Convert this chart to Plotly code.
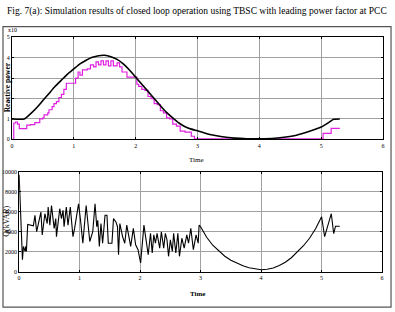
import plotly.graph_objects as go

W, H = 395, 312

# ---------------- data ----------------
# Top plot (Reactive power, x10^5)
black_t = [0, 0.2, 0.3, 0.4, 0.5, 0.6, 0.7, 0.8, 0.9, 1.0, 1.1, 1.2, 1.3, 1.4, 1.5, 1.6, 1.7, 1.8,
           1.9, 2.0, 2.1, 2.2, 2.3, 2.4, 2.5, 2.6, 2.7, 2.8, 2.9, 3.0, 3.2, 3.4, 3.6, 3.8, 4.0, 4.2,
           4.4, 4.6, 4.8, 5.0, 5.1, 5.2, 5.3]
black_v = [1.0, 1.0, 1.25, 1.55, 1.9, 2.25, 2.6, 2.9, 3.2, 3.45, 3.7, 3.88, 4.02, 4.1, 4.12, 4.05,
           3.92, 3.7, 3.4, 3.05, 2.7, 2.35, 2.0, 1.65, 1.32, 1.05, 0.8, 0.62, 0.5, 0.42, 0.24, 0.13,
           0.06, 0.03, 0.03, 0.04, 0.1, 0.2, 0.38, 0.6, 0.78, 0.98, 1.0]

pink_t = [0, 0.03, 0.06, 0.09, 0.12, 0.24, 0.3, 0.37, 0.45, 0.5, 0.52, 0.58, 0.6, 0.65, 0.68, 0.72,
          0.76, 0.8, 0.84, 0.88, 1.03, 1.07, 1.1, 1.14, 1.22, 1.27, 1.32, 1.36, 1.4, 1.44, 1.48,
          1.52, 1.56, 1.6, 1.64, 1.7, 1.74, 1.78, 1.86, 2.02, 2.05, 2.1, 2.15, 2.2, 2.25, 2.3,
          2.35, 2.4, 2.45, 2.5, 2.55, 2.6, 2.66, 2.72, 2.8, 2.9, 2.95, 5.03, 5.16, 5.3]
pink_v = [0, 0.8, 0.85, 0.75, 0.52, 0.7, 0.72, 0.82, 1.0, 1.05, 1.2, 1.3, 1.45, 1.6, 1.75, 1.85,
          2.05, 2.2, 2.45, 2.75, 3.0, 3.3, 3.15, 3.4, 3.45, 3.65, 3.55, 3.8, 3.65, 3.85, 3.65,
          3.85, 3.6, 3.85, 3.6, 3.75, 3.55, 3.3, 3.05, 2.7, 2.6, 2.45, 2.4, 2.1, 2.0, 1.75,
          1.7, 1.4, 1.3, 1.05, 1.0, 0.75, 0.65, 0.4, 0.35, 0.15, 0.02, 0.29, 0.54, 0.54]

# Bottom plot (Q, kVAR)
q_t = [0.0, 0.055, 0.071, 0.099, 0.11, 0.12, 0.142, 0.235, 0.262, 0.29, 0.36, 0.382, 0.426,
       0.464, 0.48, 0.508, 0.535, 0.579, 0.606, 0.617, 0.672, 0.7, 0.726, 0.743, 0.78, 0.808,
       0.846, 0.89, 0.917, 0.944, 0.982, 1.015, 1.053, 1.108, 1.146, 1.168, 1.217, 1.255,
       1.283, 1.3, 1.326, 1.353, 1.38, 1.42, 1.452, 1.474, 1.534, 1.56, 1.6, 1.626, 1.643,
       1.665, 1.71, 1.746, 1.779, 1.817, 1.844, 1.888, 1.926, 1.965, 2.008, 2.063, 2.1, 2.134,
       2.172, 2.2, 2.226, 2.253, 2.28, 2.324, 2.351, 2.39, 2.417, 2.444, 2.47, 2.5, 2.532,
       2.554, 2.59, 2.624, 2.65, 2.69, 2.728, 2.772, 2.8, 2.838, 2.88, 2.925, 2.96, 2.975,
       3.0, 3.1, 3.2, 3.3, 3.4, 3.5, 3.6, 3.7, 3.8, 3.9, 4.0, 4.1, 4.2, 4.3, 4.4, 4.5, 4.6,
       4.7, 4.8, 4.9, 5.0, 5.05, 5.16, 5.2, 5.23, 5.3]
q_v = [9700, 1200, 2530, 2030, 2530, 2030, 4720, 4590, 5640, 4000, 5970, 3670, 5800,
       4820, 6460, 4650, 6620, 4330, 5310, 3510, 6300, 5310, 6130, 4500, 6460, 4650,
       6460, 3510, 4330, 5480, 6790, 5150, 2850, 6620, 4650, 3020, 4000, 6790,
       4500, 5150, 2530, 4820, 2850, 5640, 5640, 2850, 2850, 5310, 4980, 4500, 1700,
       4820, 3510, 2850, 4660, 3350, 2530, 4330, 2690, 2200, 890, 4660, 2850, 1700,
       3840, 1870, 3680, 2850, 3840, 2360, 4000, 2360, 3840, 3180, 1540, 3180, 2030,
       3840, 1870, 3840, 1540, 3350, 2360, 3680, 2850, 4330, 2200, 3680, 2850, 4660,
       4500, 3450, 2650, 2050, 1550, 1150, 850, 600, 400, 270, 200, 250, 380, 620, 950, 1400, 1950,
       2600, 3350, 4300, 5500, 3500, 5800, 3800, 4550, 4550]

x_ticks = [0, 1, 2, 3, 4, 5, 6]
x_ticktext = ["0", "1", "2", "3", "4", "5", "6"]
top_y_ticks = [0, 1, 2, 3, 4, 5]
top_y_ticktext = ["0", "1", "2", "3", "4", "5"]
bot_y_ticks = [0, 2000, 4000, 6000, 8000, 10000]
bot_y_ticktext = ["0", "2000", "4000", "6000", "8000", "10000"]

title_text = "Fig. 7(a): Simulation results of closed loop operation using TBSC with leading power factor at PCC"

# ---------------- figure ----------------
def px(x):
    return x / W

def py(y):
    return 1 - y / H

fig = go.Figure()
fig.add_trace(go.Scatter(x=pink_t, y=pink_v, mode="lines", line=dict(color="#E020E0", width=1.2, shape="hv"),
                         xaxis="x", yaxis="y", showlegend=False))
fig.add_trace(go.Scatter(x=black_t, y=black_v, mode="lines", line=dict(color="black", width=1.6, shape="spline", smoothing=0.6),
                         xaxis="x", yaxis="y", showlegend=False))
fig.add_trace(go.Scatter(x=q_t, y=q_v, mode="lines", line=dict(color="black", width=1.1),
                         xaxis="x2", yaxis="y2", showlegend=False))

tickfont = dict(family="Liberation Serif", size=6, color="black")
axcommon = dict(showline=True, linecolor="black", linewidth=1, mirror="ticks", ticks="inside", ticklen=2,
                tickcolor="black", showgrid=True, gridcolor="#A0A0A0", gridwidth=1, zeroline=False,
                tickfont=tickfont)

fig.update_layout(
    width=W, height=H, margin=dict(l=0, r=0, t=0, b=0),
    paper_bgcolor="white", plot_bgcolor="white",
    xaxis=dict(domain=[px(10), px(385)], range=[0, 6], tickvals=x_ticks, ticktext=x_ticktext,
               anchor="y", **axcommon),
    yaxis=dict(domain=[py(139), py(35)], range=[0, 5], tickvals=top_y_ticks, ticktext=top_y_ticktext,
               anchor="x", **axcommon),
    xaxis2=dict(domain=[px(17.3), px(384)], range=[0, 6], tickvals=x_ticks, ticktext=x_ticktext,
                anchor="y2", **axcommon),
    yaxis2=dict(domain=[py(274), py(172)], range=[0, 10000], tickvals=bot_y_ticks, ticktext=bot_y_ticktext,
                anchor="x2", **axcommon),
)

ann = []
ann.append(dict(text=title_text, x=px(197), y=py(9), xref="paper", yref="paper", showarrow=False,
                font=dict(family="Liberation Serif", size=9.5, color="black"), xanchor="center", yanchor="middle"))
ann.append(dict(text="x10", x=px(4), y=py(28), xref="paper", yref="paper", showarrow=False,
                font=dict(family="Liberation Serif", size=6, color="black"), xanchor="left", yanchor="middle"))
ann.append(dict(text="<b>Reactive power</b>", x=px(5), y=py(86), xref="paper", yref="paper", showarrow=False,
                textangle=-90, font=dict(family="Liberation Serif", size=7.5, color="black"),
                xanchor="center", yanchor="middle"))
ann.append(dict(text="Time", x=px(196), y=py(160), xref="paper", yref="paper", showarrow=False,
                font=dict(family="Liberation Serif", size=7, color="black"), xanchor="center", yanchor="middle"))
ann.append(dict(text="Q(kVAR)", x=px(5), y=py(222), xref="paper", yref="paper", showarrow=False,
                textangle=-90, font=dict(family="Liberation Serif", size=8, color="black"),
                xanchor="center", yanchor="middle"))
ann.append(dict(text="<b>Time</b>", x=px(198), y=py(297), xref="paper", yref="paper", showarrow=False,
                font=dict(family="Liberation Serif", size=7, color="black"), xanchor="center", yanchor="middle"))
fig.update_layout(annotations=ann)

fig.add_shape(type="rect", xref="paper", yref="paper", x0=px(1), x1=px(393), y0=py(310), y1=py(24),
              line=dict(color="#555555", width=1.2), fillcolor="rgba(0,0,0,0)")

fig.write_html("out.html")
